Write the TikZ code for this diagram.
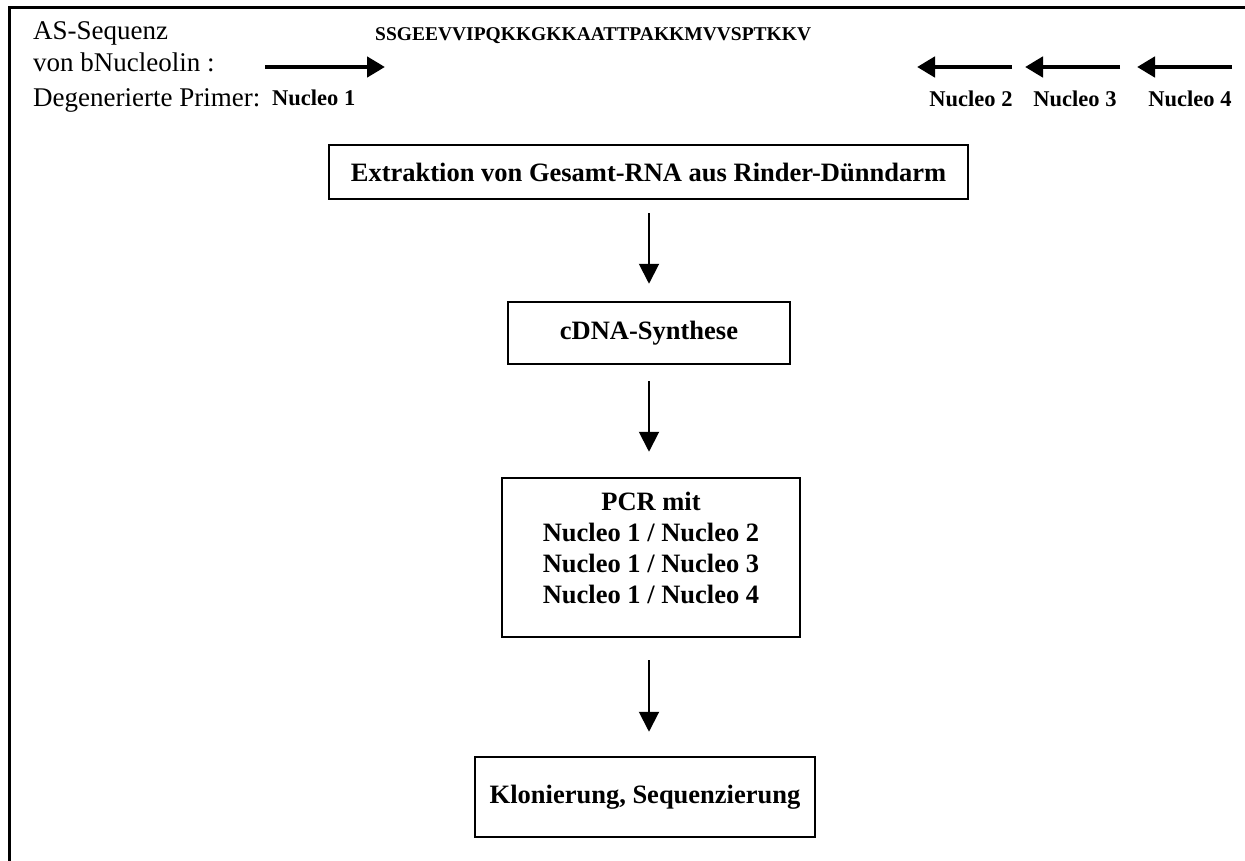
\documentclass[tikz,border=0pt]{standalone}
\usepackage{fontspec}
\setmainfont{Liberation Serif}
\usetikzlibrary{arrows.meta}

\begin{document}
\begin{tikzpicture}[x=1pt,y=-1pt,>={Triangle[length=20pt,width=20pt]}]
    \tikzset{
      stepbox/.style={
        draw,
        line width=2.5pt,
        inner sep=0pt,
        align=center,
        font=\fontsize{26.5}{31}\selectfont\bfseries
      },
      flow/.style={
        ->,
        line width=2pt
      },
      primer/.style={
        -{Triangle[length=18pt,width=20pt]},
        line width=4.5pt
      },
      plaintext/.style={
        inner sep=0pt,
        font=\fontsize{27}{27}\selectfont
      },
      primerlabel/.style={
        inner sep=0pt,
        font=\fontsize{22.5}{22.5}\selectfont\bfseries
      }
    }
    \useasboundingbox (0,0) rectangle (1245,861);
    \draw[line width=3pt] (9,861) -- (9,8) -- (1245,8);

    % Sequence and primers
    \node [plaintext, anchor=base west] (asseq)    at (33,40)  {AS-Sequenz};
    \node [plaintext, anchor=base west] (vonbnuc)  at (33,72)  {von bNucleolin :};
    \node [plaintext, anchor=base west] (degprim)  at (33,107) {Degenerierte Primer:};
    \node [primerlabel, font=\fontsize{19.5}{20}\selectfont\bfseries, anchor=base west]
          (aaseq) at (375,41) {SSGEEVVIPQKKGKKAATTPAKKMVVSPTKKV};

    \node [primerlabel, anchor=base west] (nucleo1) at (272,106)  {Nucleo 1};
    \node [primerlabel, anchor=base]      (nucleo2) at (971,107)  {Nucleo 2};
    \node [primerlabel, anchor=base]      (nucleo3) at (1075,107) {Nucleo 3};
    \node [primerlabel, anchor=base]      (nucleo4) at (1190,107) {Nucleo 4};

    \coordinate (fwdtail) at (265,67);
    \coordinate (fwdtip)  at (385,67);
    \coordinate (rev2tail) at (1012,67);
    \coordinate (rev2tip)  at (917,67);
    \coordinate (rev3tail) at (1120,67);
    \coordinate (rev3tip)  at (1025,67);
    \coordinate (rev4tail) at (1232,67);
    \coordinate (rev4tip)  at (1137,67);

    \draw [primer] (fwdtail)  -- (fwdtip);
    \draw [primer] (rev2tail) -- (rev2tip);
    \draw [primer] (rev3tail) -- (rev3tip);
    \draw [primer] (rev4tail) -- (rev4tip);

    % Work steps
    \node [stepbox, minimum width=639pt, minimum height=54pt] (extract) at (648.5,172)
          {Extraktion von Gesamt-RNA aus Rinder-D\"unndarm};
    \node [stepbox, minimum width=282pt, minimum height=62pt] (cdna) at (649,333)
          {cDNA-Synthese};
    \node [stepbox, minimum width=298pt, minimum height=159pt,
           label={[stepbox, draw=none, yshift=10pt]center:{PCR mit\\Nucleo 1 / Nucleo 2\\Nucleo 1 / Nucleo 3\\Nucleo 1 / Nucleo 4}}]
          (pcr) at (651,557.5) {};
    \node [stepbox, minimum width=340pt, minimum height=80pt] (clone) at (645,797)
          {Klonierung, Sequenzierung};

    \draw [flow, shorten <=13pt, shorten >=17pt] (extract.south -| cdna.north) -- (cdna.north);
    \draw [flow, shorten <=16pt, shorten >=25pt] (cdna.south) -- (cdna.south |- pcr.north);
    \draw [flow, shorten <=22pt, shorten >=24pt] (cdna.south |- pcr.south) -- (cdna.south |- clone.north);
\end{tikzpicture}
\end{document}
